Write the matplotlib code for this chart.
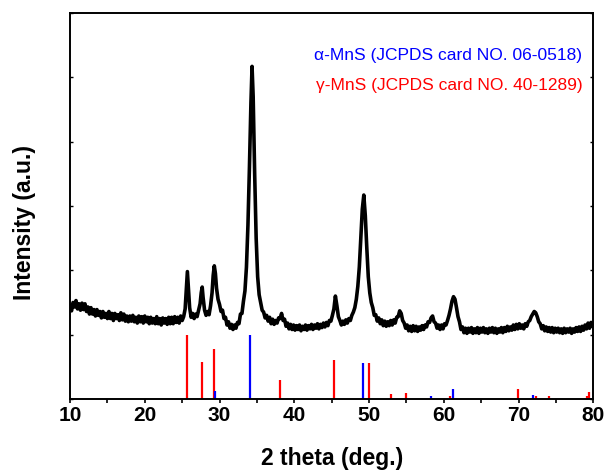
import numpy as np
import matplotlib
matplotlib.use('Agg')
import matplotlib.pyplot as plt

plt.rcParams['font.family'] = ['Liberation Sans', 'DejaVu Sans']

tt_low = [10.0, 10.2, 10.4, 10.6, 10.8, 11.0, 11.2, 11.4, 11.6, 11.8,
          12.0, 12.2, 12.4, 12.6, 12.8, 13.0, 13.2, 13.4, 13.6, 13.8,
          14.0, 14.2, 14.4, 14.6, 14.8, 15.0, 15.2, 15.4, 15.6, 15.8,
          16.0, 16.2, 16.4, 16.6, 16.8, 17.0, 17.2, 17.4, 17.6, 17.8,
          18.0, 18.2, 18.4, 18.6, 18.8, 19.0, 19.2, 19.4, 19.6, 19.8,
          20.0, 20.2, 20.4, 20.6, 20.8, 21.0, 21.2, 21.4, 21.6, 21.8,
          22.0, 22.2, 22.4, 22.6, 22.8, 23.0, 23.2, 23.4, 23.6, 23.8,
          24.0, 24.2, 24.4, 24.6, 24.8, 25.0]
int_low = [1.44, 1.37, 1.50, 1.43, 1.53, 1.40, 1.48, 1.38, 1.49, 1.39,
           1.48, 1.36, 1.43, 1.32, 1.42, 1.32, 1.39, 1.29, 1.39, 1.30,
           1.36, 1.26, 1.36, 1.27, 1.33, 1.25, 1.36, 1.25, 1.33, 1.22,
           1.33, 1.25, 1.31, 1.22, 1.34, 1.23, 1.32, 1.21, 1.29, 1.20,
           1.29, 1.21, 1.30, 1.20, 1.27, 1.18, 1.29, 1.20, 1.28, 1.18,
           1.29, 1.20, 1.27, 1.17, 1.27, 1.18, 1.25, 1.17, 1.28, 1.17,
           1.25, 1.15, 1.26, 1.18, 1.25, 1.16, 1.27, 1.17, 1.27, 1.17,
           1.28, 1.19, 1.27, 1.18, 1.29, 1.22]

tt_mid = [25.2, 25.4, 25.55, 25.7, 25.85, 26.0, 26.2, 26.4, 26.6, 26.8,
          27.0, 27.2, 27.4, 27.55, 27.68, 27.8, 28.0, 28.2, 28.4, 28.6,
          28.8, 29.0, 29.15, 29.3, 29.45, 29.6, 29.8, 30.0, 30.2, 30.4,
          30.6, 30.8, 31.0, 31.2, 31.4, 31.6, 31.8, 32.0, 32.2, 32.4,
          32.6, 32.8, 33.0, 33.2, 33.4, 33.6, 33.8, 34.0, 34.2, 34.35,
          34.5, 34.7, 34.9, 35.1]
int_mid = [1.28, 1.40, 1.70, 1.98, 1.70, 1.42, 1.27, 1.33, 1.25, 1.32,
           1.28, 1.38, 1.48, 1.65, 1.74, 1.58, 1.38, 1.30, 1.36, 1.31,
           1.45, 1.65, 1.92, 2.07, 1.95, 1.72, 1.55, 1.47, 1.36, 1.38,
           1.25, 1.27, 1.15, 1.20, 1.10, 1.16, 1.08, 1.15, 1.10, 1.19,
           1.17, 1.32, 1.33, 1.52, 1.68, 2.05, 2.70, 3.60, 4.60, 5.17,
           4.70, 3.50, 2.50, 1.90]

tt_high = [35.3, 35.5, 35.7, 35.9, 36.1, 36.3, 36.5, 36.7, 36.9, 37.1,
           37.3, 37.5, 37.7, 37.9, 38.1, 38.3, 38.5, 38.7, 38.9, 39.1,
           39.3, 39.5, 39.7, 39.9, 40.1, 40.3, 40.5, 40.7, 40.9, 41.1,
           41.3, 41.5, 41.7, 41.9, 42.1, 42.3, 42.5, 42.7, 42.9, 43.1,
           43.3, 43.5, 43.7, 43.9, 44.1, 44.3, 44.5, 44.7, 44.9, 45.1,
           45.3, 45.5, 45.7, 45.9, 46.1, 46.3, 46.5, 46.7, 46.9, 47.1,
           47.3, 47.5, 47.7, 47.9, 48.1, 48.3, 48.5, 48.7, 48.9, 49.1,
           49.3, 49.5, 49.7, 49.9, 50.1, 50.3, 50.5, 50.7, 50.9, 51.1,
           51.3, 51.5, 51.7, 51.9, 52.1, 52.3, 52.5, 52.7, 52.9, 53.1,
           53.3, 53.5, 53.7, 53.9, 54.1, 54.3, 54.5, 54.7, 54.9, 55.1,
           55.3, 55.5, 55.7, 55.9, 56.1, 56.3, 56.5, 56.7, 56.9, 57.1,
           57.3, 57.5, 57.7, 57.9, 58.1, 58.3, 58.5, 58.7, 58.9, 59.1,
           59.3, 59.5, 59.7, 59.9, 60.1, 60.3, 60.5, 60.7, 60.9, 61.1,
           61.3, 61.5, 61.7, 61.9, 62.1, 62.3, 62.5, 62.7, 62.9, 63.1,
           63.3, 63.5, 63.7, 63.9, 64.1, 64.3, 64.5, 64.7, 64.9, 65.1,
           65.3, 65.5, 65.7, 65.9, 66.1, 66.3, 66.5, 66.7, 66.9, 67.1,
           67.3, 67.5, 67.7, 67.9, 68.1, 68.3, 68.5, 68.7, 68.9, 69.1,
           69.3, 69.5, 69.7, 69.9, 70.1, 70.3, 70.5, 70.7, 70.9, 71.1,
           71.3, 71.5, 71.7, 71.9, 72.1, 72.3, 72.5, 72.7, 72.9, 73.1,
           73.3, 73.5, 73.7, 73.9, 74.1, 74.3, 74.5, 74.7, 74.9, 75.1,
           75.3, 75.5, 75.7, 75.9, 76.1, 76.3, 76.5, 76.7, 76.9, 77.1,
           77.3, 77.5, 77.7, 77.9, 78.1, 78.3, 78.5, 78.7, 78.9, 79.1,
           79.3, 79.5, 79.7, 79.9, 80.0]
int_high = [1.62, 1.50, 1.38, 1.35, 1.26, 1.30, 1.21, 1.27, 1.17, 1.24,
            1.16, 1.22, 1.18, 1.26, 1.25, 1.33, 1.22, 1.24, 1.13, 1.18,
            1.09, 1.16, 1.08, 1.15, 1.07, 1.14, 1.08, 1.15, 1.06, 1.13,
            1.08, 1.15, 1.07, 1.14, 1.09, 1.16, 1.08, 1.15, 1.10, 1.17,
            1.09, 1.16, 1.11, 1.18, 1.12, 1.19, 1.14, 1.22, 1.21, 1.30,
            1.40, 1.60, 1.45, 1.28, 1.22, 1.15, 1.21, 1.16, 1.23, 1.18,
            1.25, 1.22, 1.30, 1.35, 1.42, 1.55, 1.75, 2.05, 2.50, 2.95,
            3.17, 2.85, 2.35, 1.90, 1.65, 1.50, 1.42, 1.30, 1.31, 1.21,
            1.26, 1.17, 1.23, 1.14, 1.21, 1.13, 1.20, 1.14, 1.22, 1.15,
            1.23, 1.18, 1.27, 1.28, 1.37, 1.33, 1.22, 1.18, 1.10, 1.15,
            1.06, 1.13, 1.05, 1.14, 1.06, 1.13, 1.05, 1.12, 1.07, 1.14,
            1.08, 1.15, 1.12, 1.20, 1.19, 1.26, 1.29, 1.20, 1.18, 1.10,
            1.15, 1.08, 1.15, 1.09, 1.17, 1.15, 1.22, 1.30, 1.40, 1.52,
            1.59, 1.55, 1.42, 1.28, 1.20, 1.08, 1.12, 1.03, 1.10, 1.02,
            1.10, 1.04, 1.11, 1.02, 1.09, 1.03, 1.11, 1.02, 1.10, 1.04,
            1.11, 1.03, 1.09, 1.02, 1.10, 1.04, 1.11, 1.03, 1.10, 1.02,
            1.09, 1.04, 1.11, 1.03, 1.11, 1.05, 1.13, 1.06, 1.12, 1.07,
            1.15, 1.08, 1.16, 1.09, 1.17, 1.10, 1.15, 1.09, 1.17, 1.13,
            1.20, 1.22, 1.28, 1.32, 1.36, 1.34, 1.28, 1.20, 1.17, 1.09,
            1.14, 1.06, 1.12, 1.05, 1.11, 1.04, 1.11, 1.03, 1.10, 1.04,
            1.10, 1.03, 1.09, 1.02, 1.10, 1.03, 1.09, 1.04, 1.10, 1.02,
            1.09, 1.04, 1.11, 1.05, 1.12, 1.05, 1.13, 1.07, 1.15, 1.09,
            1.18, 1.10, 1.19, 1.13, 1.18]

# alpha-MnS, JCPDS 06-0518 (position, relative intensity)
alpha_pos = [29.45, 34.1, 49.13, 58.33, 61.2, 72.0, 79.75]
alpha_int = [0.12, 1.00, 0.56, 0.04, 0.16, 0.06, 0.01]

# gamma-MnS, JCPDS 40-1289
gamma_pos = [25.69, 27.61, 29.26, 38.14, 45.37, 49.93, 52.98, 55.0, 60.78, 69.89, 72.38,
             74.07, 79.14, 79.38]
gamma_int = [1.00, 0.57, 0.78, 0.30, 0.61, 0.56, 0.08, 0.09, 0.05, 0.15, 0.05, 0.05, 0.04, 0.11]

two_theta = tt_low + tt_mid + tt_high
intensity = int_low + int_mid + int_high

fig = plt.figure(figsize=(6.10, 4.76), dpi=100)
ax = fig.add_axes([0.1148, 0.1618, 0.8578, 0.8109])

ax.plot(two_theta, intensity, color='black', lw=2.6, solid_joinstyle='round')
ax.vlines(gamma_pos, 0, gamma_int, color='#ff0000', lw=1.6)
ax.vlines(alpha_pos, 0, alpha_int, color='#0000ff', lw=1.6)

ax.set_xlim(10, 80)
ax.set_ylim(0, 6)
ax.set_xticks(np.arange(10, 81, 10))
ax.set_xticks(np.arange(15, 80, 10), minor=True)
ax.set_yticks(np.arange(0, 7, 1))
ax.set_yticklabels([])
ax.tick_params(axis='x', which='both', direction='out', length=3, width=1.2,
               labelsize=15, pad=2)
ax.tick_params(axis='y', which='both', direction='in', length=2, width=1.0, right=True)
for lab in ax.get_xticklabels():
    lab.set_fontweight('bold')
for sp in ax.spines.values():
    sp.set_linewidth(1.4)

ax.set_xlabel('2 theta (deg.)', fontsize=16.5, fontweight='bold', labelpad=16)
ax.set_ylabel('Intensity (a.u.)', fontsize=16.5, fontweight='bold')
ax.yaxis.set_label_coords(-0.065, 0.4585)

ax.text(0.979, 0.889, 'α-MnS (JCPDS card NO. 06-0518)', transform=ax.transAxes,
        ha='right', va='center', color='#0000ff', fontsize=12.5)
ax.text(0.979, 0.813, 'γ-MnS (JCPDS card NO. 40-1289)', transform=ax.transAxes,
        ha='right', va='center', color='#ff0000', fontsize=12.5)

plt.savefig('out.png', dpi=100)
